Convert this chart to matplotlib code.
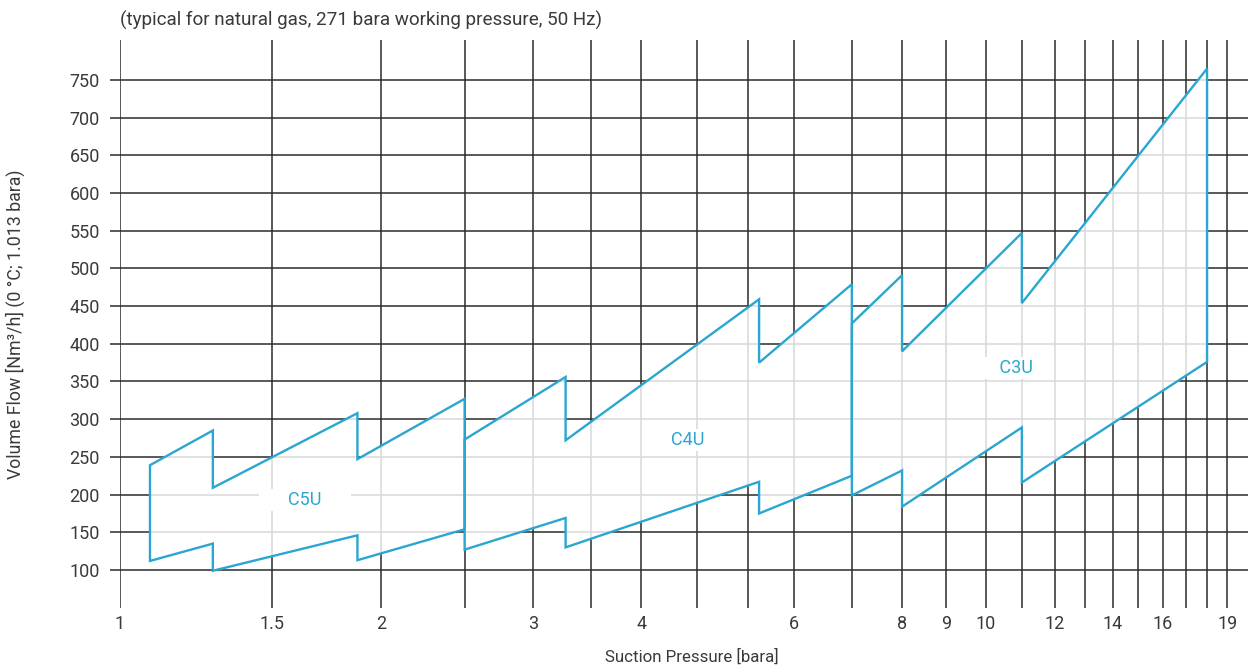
import matplotlib
matplotlib.use("Agg")
import matplotlib.pyplot as plt
from matplotlib.patches import Polygon
from matplotlib.ticker import NullLocator

# ---- data ----
c5u_x = [1.083, 1.28, 1.28, 1.88, 1.88, 2.5, 2.5, 1.88, 1.88, 1.28, 1.28, 1.083]
c5u_y = [239, 285, 209, 308, 247, 327, 154, 113, 146, 99, 135, 112]
c4u_x = [2.5, 3.27, 3.27, 5.47, 5.47, 7.0, 7.0, 5.47, 5.47, 3.27, 3.27, 2.5]
c4u_y = [273, 356, 272, 459, 375, 479, 225, 175, 217, 130, 169, 127]
c3u_x = [7.0, 8.0, 8.0, 11.0, 11.0, 18.0, 18.0, 11.0, 11.0, 8.0, 8.0, 7.0]
c3u_y = [427, 491, 390, 547, 454, 765, 376, 216, 289, 184, 232, 199]

series_names = ["C5U", "C4U", "C3U"]
label_pos = [(1.635, 193), (4.53, 272), (10.83, 368)]
label_pad_spaces = [6, 4, 3]

grid_x = [1, 1.5, 2, 2.5, 3, 3.5, 4, 4.64, 5.31, 6, 7, 8, 9, 10, 11, 12, 13, 14, 15, 16, 17, 18, 19]
labeled_x = {1: "1", 1.5: "1.5", 2: "2", 3: "3", 4: "4", 6: "6", 8: "8", 9: "9",
             10: "10", 12: "12", 14: "14", 16: "16", 19: "19"}
y_ticks = [100, 150, 200, 250, 300, 350, 400, 450, 500, 550, 600, 650, 700, 750]

title = "(typical for natural gas, 271 bara working pressure, 50 Hz)"
xlabel = "Suction Pressure [bara]"
ylabel = "Volume Flow [Nm³/h] (0 °C; 1.013 bara)"

# ---- style ----
plt.rcParams['font.family'] = ['Roboto', 'DejaVu Sans']
W, H = 1248, 668
fig = plt.figure(figsize=(W / 100, H / 100), dpi=100)
ax = fig.add_axes([120 / W, 1 - 608 / H, 1 - 120 / W, (608 - 40) / H])

blue = '#2aa6d1'
grid_c = '#2b2b2b'
txt_c = '#3a3a3a'

ax.set_xscale('log')
ax.set_xlim(1, 20.07)
ax.set_ylim(49.6, 802.9)

ax.set_xticks(grid_x)
ax.set_xticklabels([labeled_x.get(v, "") for v in grid_x])
ax.xaxis.set_minor_locator(NullLocator())
ax.set_yticks(y_ticks)
ax.set_yticklabels([str(v) for v in y_ticks])

ax.tick_params(axis='x', length=0, pad=5, labelsize=13, labelcolor=txt_c)
ax.tick_params(axis='y', length=7.2, width=1.1, color=grid_c, pad=7.2,
               labelsize=13, labelcolor=txt_c)

ax.grid(True, which='major', color=grid_c, lw=1.1, zorder=0)
ax.set_axisbelow(True)
for s in ax.spines.values():
    s.set_visible(False)

for xs, ys in [(c5u_x, c5u_y), (c4u_x, c4u_y), (c3u_x, c3u_y)]:
    pts = list(zip(xs, ys))
    ax.add_patch(Polygon(pts, closed=True, facecolor='white', alpha=0.82,
                         edgecolor='none', zorder=2))
for xs, ys in [(c5u_x, c5u_y), (c4u_x, c4u_y), (c3u_x, c3u_y)]:
    pts = list(zip(xs, ys))
    ax.add_patch(Polygon(pts, closed=True, facecolor='none', edgecolor=blue,
                         lw=1.7, joinstyle='miter', zorder=3))

for name, (lx, ly), n in zip(series_names, label_pos, label_pad_spaces):
    sp = " " * n
    ax.text(lx, ly, sp + name + sp, ha='center', va='center', color=blue,
            fontsize=13, zorder=4,
            bbox=dict(boxstyle='square,pad=0.12', fc='white', ec='none'))

fig.text(120 / W, 1 - 20 / H, title, ha='left', va='center', fontsize=13.6,
         color=txt_c)
fig.text(692 / W, 1 - 657 / H, xlabel, ha='center', va='center', fontsize=12.2,
         color=txt_c)
fig.text(15 / W, 1 - 324 / H, ylabel, ha='center', va='center', fontsize=12.8,
         rotation=90, color=txt_c)

fig.savefig('out.png', dpi=100)
